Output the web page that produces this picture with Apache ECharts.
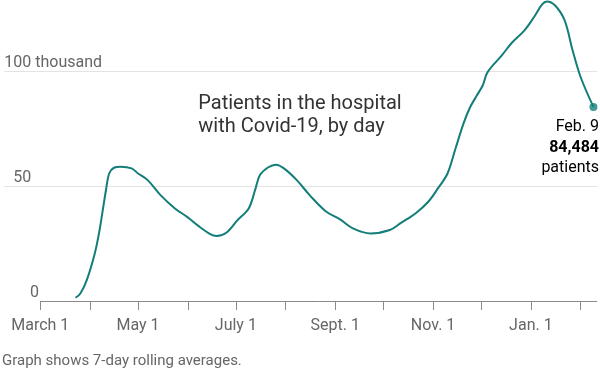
<!DOCTYPE html>
<html>
<head>
<meta charset="utf-8">
<script src="https://cdn.jsdelivr.net/npm/echarts@6/dist/echarts.min.js"></script>
<style>
html,body{margin:0;padding:0;background:#fff;}
#chart{width:600px;height:374px;}
</style>
</head>
<body>
<div id="chart"></div>
<script>
// Dates of readings (7-day rolling average of hospitalized Covid-19 patients, thousands)
const dates = [
  '2020-03-23','2020-03-26','2020-03-30','2020-04-04','2020-04-07','2020-04-09','2020-04-11','2020-04-13',
  '2020-04-16','2020-04-20','2020-04-27','2020-05-01','2020-05-07','2020-05-15','2020-05-24','2020-06-01',
  '2020-06-07','2020-06-15','2020-06-19','2020-06-25','2020-07-02','2020-07-09','2020-07-13','2020-07-16',
  '2020-07-21','2020-07-26','2020-07-31','2020-08-08','2020-08-16','2020-08-26','2020-09-04','2020-09-12',
  '2020-09-23','2020-10-05','2020-10-12','2020-10-21','2020-10-29','2020-11-04','2020-11-10','2020-11-15',
  '2020-11-20','2020-11-24','2020-11-28','2020-12-02','2020-12-05','2020-12-14','2020-12-20','2020-12-28',
  '2021-01-03','2021-01-08','2021-01-11','2021-01-16','2021-01-22','2021-01-27','2021-02-01','2021-02-09'
];
const patients = [
  1.4, 3.3, 9.1, 20.7, 30.9, 39.6, 48.3, 55.5,
  58.0, 58.4, 57.7, 55.5, 52.6, 46.1, 40.3, 36.4,
  33.0, 29.1, 28.3, 29.7, 35.2, 40.3, 48.3, 54.8,
  58.1, 59.3, 57.7, 52.6, 46.1, 39.1, 35.5, 31.6,
  29.4, 30.9, 34.0, 38.1, 43.2, 49.0, 55.5, 66.4,
  77.3, 84.2, 89.1, 93.9, 99.6, 107.0, 112.3, 117.8,
  123.6, 129.1, 130.4, 128.7, 122.2, 109.1, 97.5, 84.484
];
const monthTicks = ['2020-03-01','2020-04-01','2020-05-01','2020-06-01','2020-07-01','2020-08-01',
  '2020-09-01','2020-10-01','2020-11-01','2020-12-01','2021-01-01','2021-02-01'];
const labelTicks = ['2020-02-08','2020-03-01','2020-05-01','2020-07-01','2020-09-01','2020-11-01','2021-01-01','2021-02-10'];
const monthNames = {2:'March 1',4:'May 1',6:'July 1',8:'Sept. 1',10:'Nov. 1',0:'Jan. 1'};
const zeroLabel = '0';
const lastDate = 'Feb. 9';
const lastValueText = '84,484';

function toTime(s){const p=s.split('-').map(Number);return new Date(p[0],p[1]-1,p[2]).getTime();}

const DAY = 86400000;
const lineData = dates.map((d,i)=>[toTime(d), patients[i]]);
const lastPoint = lineData[lineData.length-1];
const axisStart = toTime('2020-03-01');
const xMin = axisStart - 22.45*DAY;
const xMax = toTime('2021-02-11') + 8*3600*1000;
const teal = '#137e78';
const font = 'Roboto, "Noto Sans", sans-serif';

const chart = echarts.init(document.getElementById('chart'), null, {renderer:'canvas'});
chart.setOption({
  animation:false,
  backgroundColor:'#fff',
  grid:{left:2, right:0, top:0, bottom:73},
  xAxis:{type:'value', min:xMin, max:xMax, scale:true,
    axisLine:{show:false},
    axisTick:{show:true, customValues:monthTicks.map(toTime), length:9, lineStyle:{color:'#8a8a8a'}},
    axisLabel:{show:true, customValues:labelTicks.map(toTime), margin:17, align:'center',
      fontFamily:font, fontSize:16, color:'#666',
      formatter:(v)=>{ const d=new Date(v); return d.getDate()===1 ? (monthNames[d.getMonth()] || ' ') : ' '; }},
    splitLine:{show:false}
  },
  yAxis:{type:'value', min:0, max:131, interval:50,
    axisLine:{show:false}, axisTick:{show:false},
    splitLine:{show:true, lineStyle:{color:['rgba(0,0,0,0)','#e3e3e3','#e3e3e3','rgba(0,0,0,0)'], width:1}},
    axisLabel:{show:true, inside:true, margin:0, verticalAlign:'middle', align:'left',
      showMaxLabel:false, showMinLabel:false,
      fontFamily:font, fontSize:16, color:'#666',
      formatter:(v)=>{ if(v===50) return '{b|50}'; if(v===100) return '{a|100 thousand}'; return ''; },
      rich:{
        a:{fontFamily:font, fontSize:16, lineHeight:16, color:'#666', padding:[0,0,16,0]},
        b:{fontFamily:font, fontSize:16, lineHeight:16, color:'#666', padding:[0,0,16,9]}
      }
    }
  },
  series:[
    {type:'line', data:lineData, smooth:0.35,
      showSymbol:false, symbol:'none',
      lineStyle:{color:teal, width:2}, z:3,
      markLine:{silent:true, symbol:'none', label:{show:false},
        lineStyle:{color:'#8a8a8a', width:1, type:'solid'},
        data:[[{coord:[axisStart,0]},{coord:[xMax,0]}]]}},
    {type:'scatter', data:[lastPoint], symbol:'circle', symbolSize:8,
      itemStyle:{color:teal}, z:4}
  ],
  graphic:[
    {type:'text', left:30, top:285, style:{text:zeroLabel, fontFamily:font, fontSize:16, fill:'#666'}},
    {type:'text', left:'center', top:92, style:{text:'Patients in the hospital\nwith Covid-19, by day',
      fontFamily:font, fontSize:20, lineHeight:23, fill:'#333', align:'center'}},
    {type:'text', right:1, top:119, style:{text:'{n|'+lastDate+'}\n{b|'+lastValueText+'}\n{n|patients}',
      align:'right', rich:{
        n:{fontFamily:font, fontSize:16, lineHeight:20.5, color:'#555', align:'right'},
        b:{fontFamily:font, fontSize:16, lineHeight:20.5, fontWeight:'bold', color:'#222', align:'right'}
      }}},
    {type:'text', left:2, top:354, style:{text:'Graph shows 7-day rolling averages.',
      fontFamily:font, fontSize:15, fill:'#666'}}
  ]
});
</script>
</body>
</html>
